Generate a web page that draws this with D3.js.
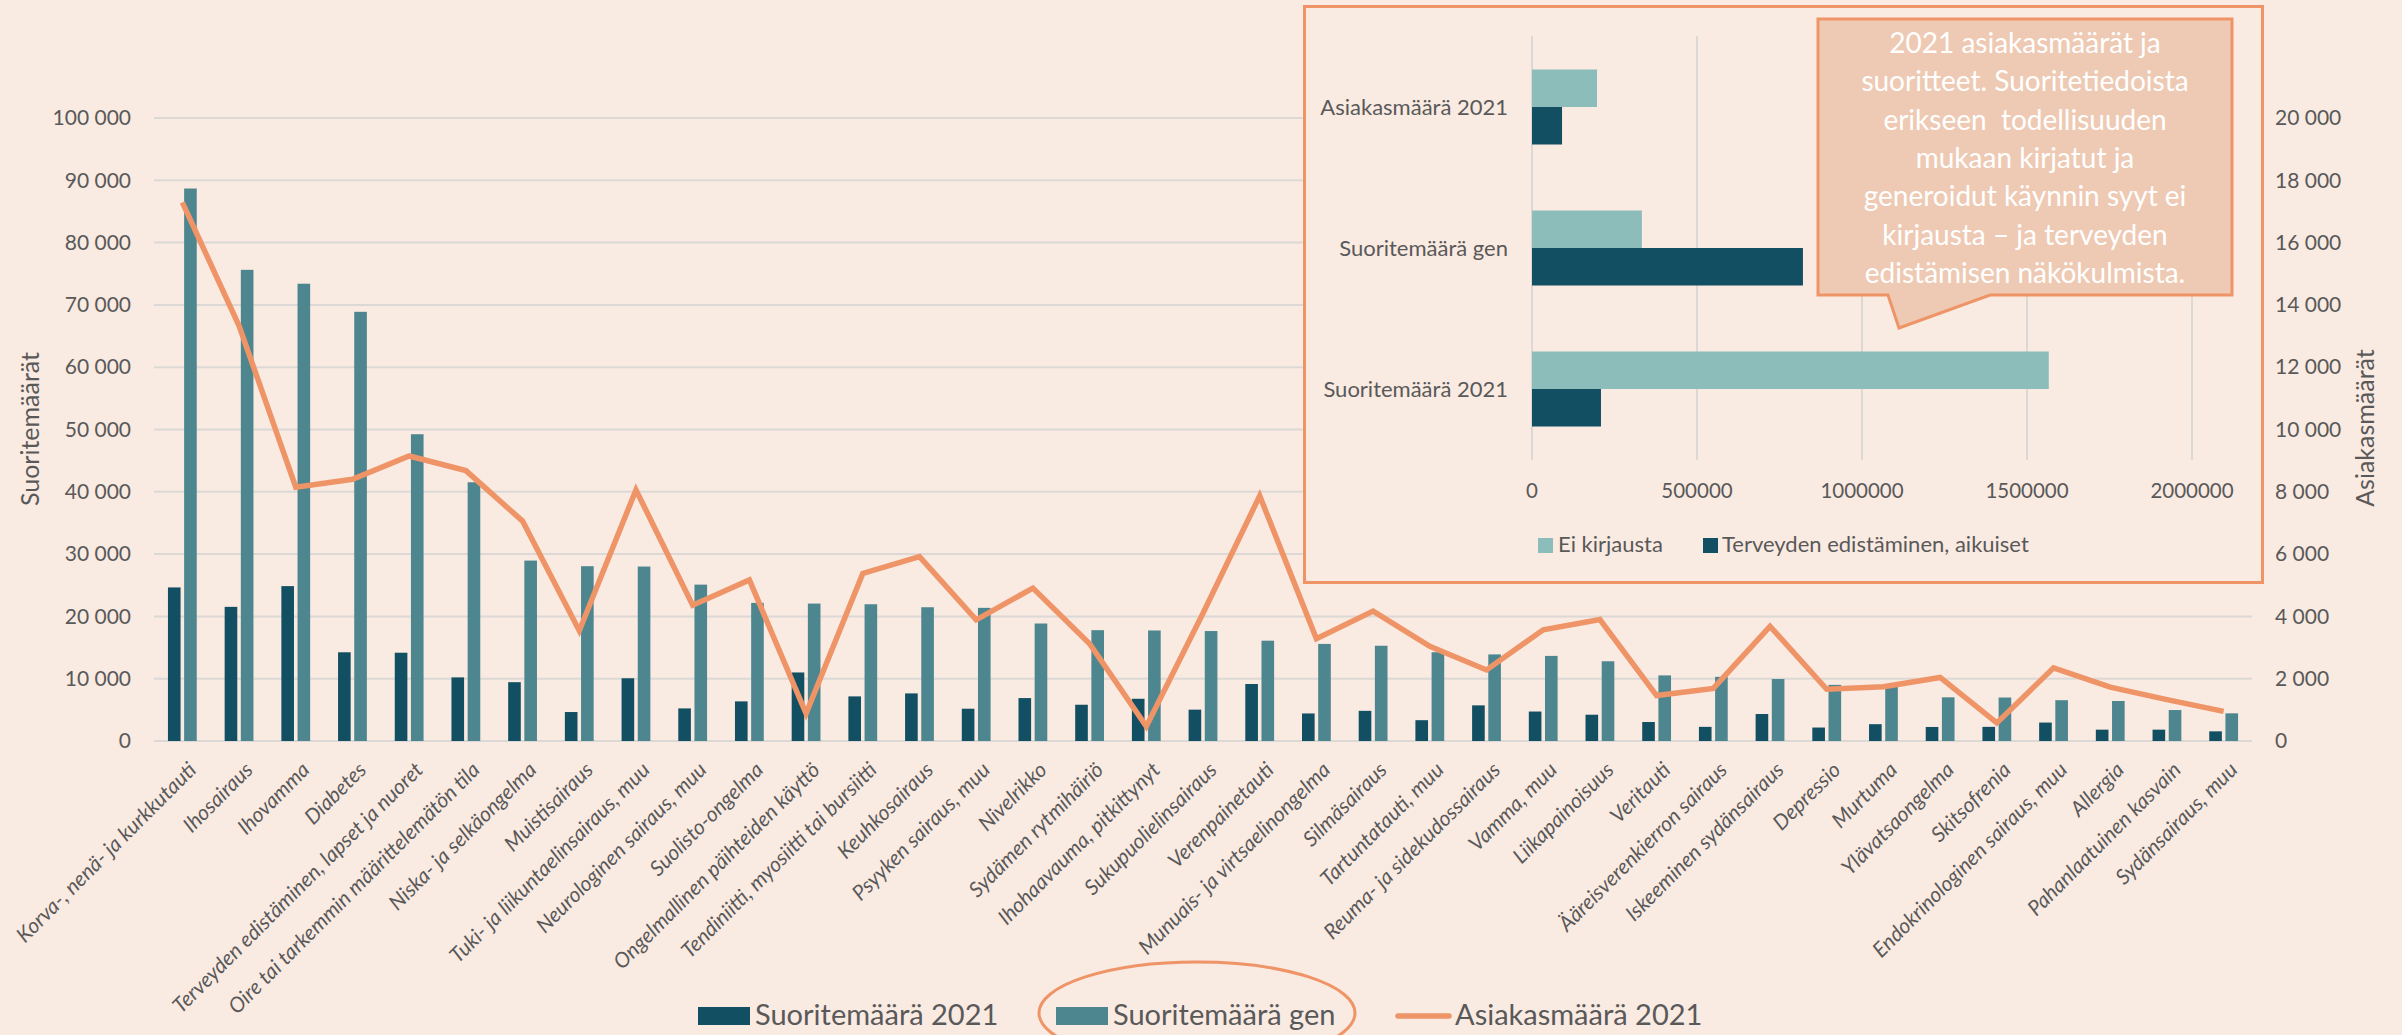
<!DOCTYPE html>
<html lang="fi">
<head>
<meta charset="utf-8">
<script src="https://d3js.org/d3.v7.min.js"></script>
<style>
  body { margin: 0; background: #f9eae2; }
  svg text { font-family: Lato, "Open Sans", sans-serif; fill: #595959; }
</style>
</head>
<body>
<script>
  // main chart data
  var categories = [
    "Korva-, nenä- ja kurkkutauti", "Ihosairaus", "Ihovamma", "Diabetes",
    "Terveyden edistäminen, lapset ja nuoret", "Oire tai tarkemmin määrittelemätön tila",
    "Niska- ja selkäongelma", "Muistisairaus", "Tuki- ja liikuntaelinsairaus, muu",
    "Neurologinen sairaus, muu", "Suolisto-ongelma", "Ongelmallinen päihteiden käyttö",
    "Tendiniitti, myosiitti tai bursiitti", "Keuhkosairaus", "Psyyken sairaus, muu",
    "Nivelrikko", "Sydämen rytmihäiriö", "Ihohaavauma, pitkittynyt", "Sukupuolielinsairaus",
    "Verenpainetauti", "Munuais- ja virtsaelinongelma", "Silmäsairaus", "Tartuntatauti, muu",
    "Reuma- ja sidekudossairaus", "Vamma, muu", "Liikapainoisuus", "Veritauti",
    "Ääreisverenkierron sairaus", "Iskeeminen sydänsairaus", "Depressio", "Murtuma",
    "Ylävatsaongelma", "Skitsofrenia", "Endokrinologinen sairaus, muu", "Allergia",
    "Pahanlaatuinen kasvain", "Sydänsairaus, muu"
  ];
  var suorite2021 = [24650, 21530, 24860, 14240, 14170, 10210, 9440, 4650, 10070, 5230,
    6360, 11000, 7160, 7640, 5180, 6890, 5820, 6780, 5030, 9150, 4420, 4840, 3340, 5720,
    4730, 4220, 3050, 2270, 4330, 2160, 2700, 2250, 2270, 2960, 1820, 1820, 1550];
  var suoriteGen = [88680, 75630, 73400, 68890, 49240, 41530, 28960, 28060, 28000, 25100,
    22170, 22060, 21950, 21470, 21370, 18860, 17790, 17740, 17650, 16100, 15580, 15290,
    14250, 13900, 13660, 12800, 10530, 10300, 9950, 9010, 8720, 7010, 6980, 6550, 6420,
    4970, 4440];
  var asiakas2021 = [17290, 13330, 8150, 8400, 9150, 8680, 7060, 3540, 8060, 4360, 5170,
    880, 5380, 5920, 3890, 4910, 3120, 470, 4100, 7870, 3280, 4170, 3040, 2280, 3570, 3900,
    1460, 1690, 3680, 1660, 1740, 2040, 580, 2350, 1730, 1330, 950];
  var leftTicks = [0, 10000, 20000, 30000, 40000, 50000, 60000, 70000, 80000, 90000, 100000];
  var rightTicks = [0, 2000, 4000, 6000, 8000, 10000, 12000, 14000, 16000, 18000, 20000];
  var seriesNames = ["Suoritemäärä 2021", "Suoritemäärä gen", "Asiakasmäärä 2021"];

  // inset chart data
  var insetCategories = ["Asiakasmäärä 2021", "Suoritemäärä gen", "Suoritemäärä 2021"];
  var eiKirjausta = [197000, 333000, 1566000];
  var terveydenEdist = [91000, 821000, 209000];
  var insetTicks = [0, 500000, 1000000, 1500000, 2000000];
  var insetSeries = ["Ei kirjausta", "Terveyden edistäminen, aikuiset"];

  var calloutLines = [
    "2021 asiakasmäärät ja",
    "suoritteet. Suoritetiedoista",
    "erikseen  todellisuuden",
    "mukaan kirjatut ja",
    "generoidut käynnin syyt ei",
    "kirjausta – ja terveyden",
    "edistämisen näkökulmista."
  ];

  var width = 2402, height = 1035;
  var dark = "#124f62", teal = "#4e868f", light = "#8dbdbb",
    orange = "#ef9467", grid = "#dcd8d5", bg = "#f9eae2";

  var svg = d3.select("body").append("svg")
    .attr("width", width)
    .attr("height", height);

  var fmt = d3.formatLocale({ decimal: ",", thousands: "\u00a0", grouping: [3], currency: ["", "€"] }).format(",d");

  // scales for the main chart
  var x = d3.scaleBand().domain(categories).range([154, 2252]);
  var x1 = d3.scaleBand().domain(["s2021", "gen"])
    .range([x.bandwidth() / 2 - 14.4, x.bandwidth() / 2 + 14.4])
    .paddingInner(0.22);
  var yL = d3.scaleLinear().domain([0, 100000]).range([741, 118]);
  var yR = d3.scaleLinear().domain([0, 20000]).range([741, 118]);

  // gridlines
  svg.append("g")
    .selectAll("line")
    .data(leftTicks)
    .join("line")
    .attr("x1", 154).attr("x2", 2252)
    .attr("y1", function (d) { return yL(d); })
    .attr("y2", function (d) { return yL(d); })
    .attr("stroke", grid)
    .attr("stroke-width", 2);

  // left axis
  var gl = svg.append("g")
    .attr("transform", "translate(154,0)")
    .call(d3.axisLeft(yL).tickValues(leftTicks).tickSize(0).tickPadding(23).tickFormat(fmt));
  gl.select(".domain").remove();
  gl.selectAll("text").style("font-size", "21px").style("font-family", null);

  // right axis
  var gr = svg.append("g")
    .attr("transform", "translate(2252,0)")
    .call(d3.axisRight(yR).tickValues(rightTicks).tickSize(0).tickPadding(23).tickFormat(fmt));
  gr.select(".domain").remove();
  gr.selectAll("text").style("font-size", "21px").style("font-family", null);

  // axis titles
  svg.append("text")
    .attr("transform", "translate(30,429) rotate(-90)")
    .attr("text-anchor", "middle").attr("dy", "0.35em")
    .style("font-size", "25px")
    .text("Suoritemäärät");
  svg.append("text")
    .attr("transform", "translate(2365,428) rotate(-90)")
    .attr("text-anchor", "middle").attr("dy", "0.35em")
    .style("font-size", "25px")
    .text("Asiakasmäärät");

  // bars
  var rows = categories.map(function (c, i) {
    return { cat: c, s2021: suorite2021[i], gen: suoriteGen[i], asiakas: asiakas2021[i] };
  });
  var groups = svg.append("g")
    .selectAll("g")
    .data(rows)
    .join("g")
    .attr("transform", function (d) { return "translate(" + x(d.cat) + ",0)"; });
  groups.append("rect")
    .attr("x", x1("s2021"))
    .attr("width", x1.bandwidth())
    .attr("y", function (d) { return yL(d.s2021); })
    .attr("height", function (d) { return yL(0) - yL(d.s2021); })
    .attr("fill", dark);
  groups.append("rect")
    .attr("x", x1("gen"))
    .attr("width", x1.bandwidth())
    .attr("y", function (d) { return yL(d.gen); })
    .attr("height", function (d) { return yL(0) - yL(d.gen); })
    .attr("fill", teal);

  // line on the secondary axis
  var line = d3.line()
    .x(function (d) { return x(d.cat) + x.bandwidth() / 2; })
    .y(function (d) { return yR(d.asiakas); });
  svg.append("path")
    .datum(rows)
    .attr("d", line)
    .attr("fill", "none")
    .attr("stroke", orange)
    .attr("stroke-width", 5.5)
    .attr("stroke-linejoin", "miter");

  // category labels, rotated
  svg.append("g")
    .selectAll("text")
    .data(categories)
    .join("text")
    .attr("transform", function (d) {
      return "translate(" + (x(d) + x.bandwidth() / 2 + 10) + ",766) rotate(-45)";
    })
    .attr("text-anchor", "end")
    .attr("dy", "0.35em")
    .style("font-size", "21px")
    .style("font-style", "italic")
    .text(function (d) { return d; });

  // main legend
  var leg = svg.append("g");
  leg.append("ellipse")
    .attr("cx", 1197).attr("cy", 1013).attr("rx", 158).attr("ry", 51)
    .attr("fill", "none").attr("stroke", orange).attr("stroke-width", 3);
  leg.append("rect").attr("x", 698).attr("y", 1007).attr("width", 52).attr("height", 18).attr("fill", dark);
  leg.append("rect").attr("x", 1056).attr("y", 1007).attr("width", 52).attr("height", 18).attr("fill", teal);
  leg.append("line").attr("x1", 1398).attr("x2", 1449).attr("y1", 1016).attr("y2", 1016)
    .attr("stroke", orange).attr("stroke-width", 5.5).attr("stroke-linecap", "round");
  leg.selectAll("text.lg")
    .data(seriesNames)
    .join("text")
    .attr("class", "lg")
    .attr("x", function (d, i) { return [755, 1113, 1455][i]; })
    .attr("y", 1025)
    .style("font-size", "29px")
    .text(function (d) { return d; });

  // ---- inset bar chart ----
  var inset = svg.append("g");
  inset.append("rect")
    .attr("x", 1304.5).attr("y", 6.5).attr("width", 958).attr("height", 576)
    .attr("fill", bg).attr("stroke", orange).attr("stroke-width", 3);

  var xi = d3.scaleLinear().domain([0, 2000000]).range([1532, 2192]);
  var yi = d3.scaleBand().domain(insetCategories).range([36.5, 459.5])
    .paddingInner(0.468).paddingOuter(0.234);
  var yi1 = d3.scaleBand().domain(["ei", "terv"]).range([0, yi.bandwidth()]);

  inset.append("g")
    .selectAll("line")
    .data(insetTicks)
    .join("line")
    .attr("x1", function (d) { return xi(d); })
    .attr("x2", function (d) { return xi(d); })
    .attr("y1", 36).attr("y2", 460)
    .attr("stroke", grid).attr("stroke-width", 2);

  inset.append("g")
    .selectAll("text")
    .data(insetTicks)
    .join("text")
    .attr("x", function (d) { return xi(d); })
    .attr("y", 498)
    .attr("text-anchor", "middle")
    .style("font-size", "20.5px")
    .text(function (d) { return d3.format("d")(d); });

  var irows = insetCategories.map(function (c, i) {
    return { cat: c, ei: eiKirjausta[i], terv: terveydenEdist[i] };
  });
  var ig = inset.append("g")
    .selectAll("g")
    .data(irows)
    .join("g")
    .attr("transform", function (d) { return "translate(0," + yi(d.cat) + ")"; });
  ig.append("rect")
    .attr("x", xi(0))
    .attr("y", yi1("ei"))
    .attr("height", yi1.bandwidth())
    .attr("width", function (d) { return xi(d.ei) - xi(0); })
    .attr("fill", light);
  ig.append("rect")
    .attr("x", xi(0))
    .attr("y", yi1("terv"))
    .attr("height", yi1.bandwidth())
    .attr("width", function (d) { return xi(d.terv) - xi(0); })
    .attr("fill", dark);
  ig.append("text")
    .attr("x", 1508)
    .attr("y", yi.bandwidth() / 2)
    .attr("dy", "0.35em")
    .attr("text-anchor", "end")
    .style("font-size", "22px")
    .text(function (d) { return d.cat; });

  // inset legend
  var ileg = inset.append("g");
  ileg.selectAll("rect")
    .data(insetSeries)
    .join("rect")
    .attr("x", function (d, i) { return [1538, 1703][i]; })
    .attr("y", 538).attr("width", 15).attr("height", 15)
    .attr("fill", function (d, i) { return [light, dark][i]; });
  ileg.selectAll("text")
    .data(insetSeries)
    .join("text")
    .attr("x", function (d, i) { return [1558, 1722][i]; })
    .attr("y", 552)
    .style("font-size", "22px")
    .text(function (d) { return d; });

  // callout
  var co = svg.append("g");
  co.append("path")
    .attr("d", "M1818,19 L2232,19 L2232,295 L1990,295 L1899,328 L1888,295 L1818,295 Z")
    .attr("fill", "#eecab4")
    .attr("stroke", orange)
    .attr("stroke-width", 3);
  co.selectAll("text")
    .data(calloutLines)
    .join("text")
    .attr("x", 2025)
    .attr("y", function (d, i) { return 53 + i * 38.3; })
    .attr("text-anchor", "middle")
    .style("font-size", "28px")
    .style("fill", "#ffffff")
    .style("white-space", "pre")
    .text(function (d) { return d; });

  console.log("ready..");
</script>
</body>
</html>
